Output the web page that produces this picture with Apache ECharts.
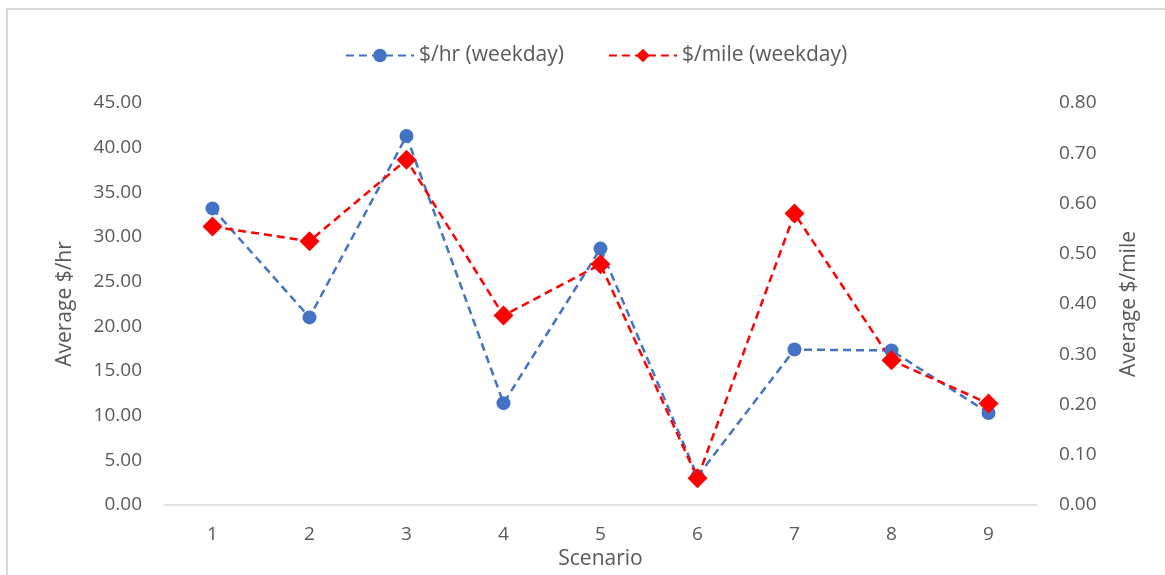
<!DOCTYPE html>
<html>
<head>
<meta charset="utf-8">
<script src="https://cdn.jsdelivr.net/npm/echarts@6/dist/echarts.min.js"></script>
<style>
html,body{margin:0;padding:0;background:#fff;overflow:hidden;}
#c{width:1165px;height:575px;}
</style>
</head>
<body>
<div id="c"></div>
<script>
var categories = ['1','2','3','4','5','6','7','8','9'];
var perHour = [33.2, 21.0, 41.3, 11.4, 28.7, 3.2, 17.4, 17.3, 10.3];
var perMile = [0.554, 0.525, 0.687, 0.377, 0.479, 0.053, 0.580, 0.288, 0.202];
var seriesNames = ['$/hr (weekday)', '$/mile (weekday)'];

var FONT = '"Open Sans", "Noto Sans", sans-serif';
var chart = echarts.init(document.getElementById('c'), null, {renderer:'canvas'});
chart.setOption({
  animation: false,
  backgroundColor: '#fff',
  textStyle: {fontFamily: FONT},
  graphic: [{
    type: 'rect',
    shape: {x: 7, y: 9, width: 1200, height: 600},
    style: {fill: 'none', stroke: '#d9d9d9', lineWidth: 2},
    silent: true
  }],
  legend: {
    top: 40,
    left: 340,
    itemGap: 44,
    itemWidth: 68,
    itemHeight: 17,
    textStyle: {color: '#595959', fontSize: 21, fontFamily: FONT},
    data: seriesNames
  },
  grid: {left: 164, right: 128, top: 103, bottom: 67, containLabel: false},
  xAxis: {
    type: 'category',
    data: categories,
    boundaryGap: true,
    name: 'Scenario',
    nameLocation: 'middle',
    nameGap: 44,
    nameTextStyle: {color: '#595959', fontSize: 21, fontFamily: FONT},
    axisLine: {lineStyle: {color: '#d9d9d9', width: 1.5}},
    axisTick: {show: false},
    axisLabel: {color: '#595959', fontSize: 19, margin: 20, fontFamily: FONT}
  },
  yAxis: [{
    type: 'value',
    min: 0, max: 45, interval: 5,
    name: 'Average $/hr',
    nameLocation: 'middle',
    nameGap: 88,
    nameTextStyle: {color: '#595959', fontSize: 21, fontFamily: FONT},
    axisLine: {show: false},
    axisTick: {show: false},
    splitLine: {show: false},
    axisLabel: {color: '#595959', fontSize: 19, margin: 22, fontFamily: FONT,
      formatter: function(v){ return v.toFixed(2); }}
  }, {
    type: 'value',
    min: 0, max: 0.8, interval: 0.1,
    name: 'Average $/mile',
    nameLocation: 'middle',
    nameGap: 82,
    nameRotate: 90,
    nameTextStyle: {color: '#595959', fontSize: 21, fontFamily: FONT},
    axisLine: {show: false},
    axisTick: {show: false},
    splitLine: {show: false},
    axisLabel: {color: '#595959', fontSize: 19, margin: 22, fontFamily: FONT,
      formatter: function(v){ return v.toFixed(2); }}
  }],
  series: [{
    name: seriesNames[0],
    type: 'line',
    yAxisIndex: 0,
    data: perHour,
    symbol: 'circle',
    symbolSize: 14,
    itemStyle: {color: '#4472c4'},
    lineStyle: {color: '#4472c4', width: 2.5, type: [8, 5]}
  }, {
    name: seriesNames[1],
    type: 'line',
    yAxisIndex: 1,
    data: perMile,
    symbol: 'diamond',
    symbolSize: 20,
    itemStyle: {color: '#ff0000'},
    lineStyle: {color: '#ff0000', width: 2.5, type: [8, 5]}
  }]
});
</script>
</body>
</html>
